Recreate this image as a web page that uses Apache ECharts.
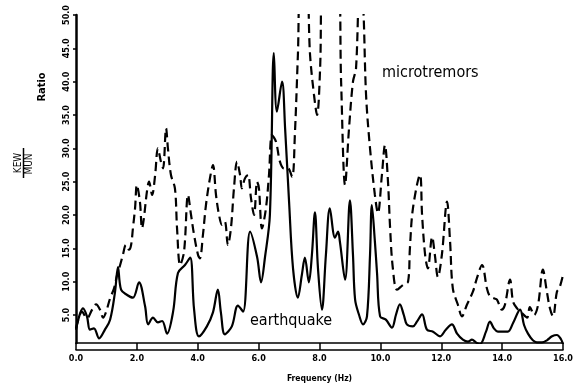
<!DOCTYPE html>
<html>
<head>
<meta charset="utf-8">
<title>KEW/MUN Ratio</title>
<style>
  html, body { margin: 0; padding: 0; background: #fff; }
  #main { width: 576px; height: 389px; }
</style>
</head>
<body>
<div id="main"></div>
<script src="https://cdn.jsdelivr.net/npm/echarts@6/dist/echarts.min.js"></script>
<script>
// frequency (Hz) and spectral ratio
var eqFreq = [0.00, 0.23, 0.36, 0.46, 0.59, 0.76, 0.95, 1.12, 1.28, 1.38, 1.48, 1.68, 1.87, 2.07, 2.27, 2.37,
  2.53, 2.69, 2.83, 2.99, 3.19, 3.35, 3.58, 3.75, 3.88, 4.04, 4.30, 4.50, 4.66, 4.76, 4.89, 5.12, 5.32, 5.49,
  5.72, 5.95, 6.08, 6.21, 6.37, 6.50, 6.60, 6.77, 6.87, 7.00, 7.13, 7.29, 7.42, 7.52, 7.65, 7.75, 7.85, 7.95,
  8.08, 8.21, 8.34, 8.51, 8.61, 8.67, 8.84, 9.00, 9.10, 9.17, 9.30, 9.43, 9.56, 9.66, 9.72, 9.82, 9.89, 9.99,
  10.18, 10.38, 10.51, 10.64, 10.77, 10.87, 11.07, 11.20, 11.37, 11.53, 11.73, 11.96, 12.15, 12.35, 12.52,
  12.71, 12.88, 13.01, 13.14, 13.27, 13.47, 13.60, 13.73, 13.86, 14.06, 14.19, 14.36, 14.59, 14.72, 14.85,
  15.01, 15.14, 15.31, 15.47, 15.64, 15.80, 15.93, 16.00];
var eqRatio = [2.8, 6.0, 4.8, 2.8, 3.0, 1.5, 2.8, 4.3, 8.4, 12.2, 8.8, 8.0, 7.6, 9.9, 6.3, 3.6,
  4.6, 3.9, 4.1, 2.2, 5.5, 11.3, 12.5, 13.6, 5.8, 1.8, 3.3, 5.4, 8.8, 5.4, 2.1, 3.3, 6.4, 5.5,
  17.5, 13.7, 9.9, 13.7, 20.0, 44.3, 35.5, 40.0, 33.0, 22.0, 12.0, 7.6, 11.0, 13.6, 9.9, 14.0, 20.4, 12.0,
  5.8, 14.0, 21.0, 16.6, 17.5, 16.0, 10.3, 22.2, 14.0, 7.3, 5.0, 3.6, 4.8, 14.0, 21.5, 16.0, 11.3, 4.8,
  4.3, 3.1, 5.0, 6.6, 5.0, 3.6, 3.3, 4.0, 5.1, 2.8, 2.5, 1.8, 2.8, 3.6, 2.2,
  1.3, 1.0, 1.3, 0.9, 0.6, 2.5, 4.0, 3.0, 2.5, 2.5, 2.5, 3.8, 5.8, 3.5, 2.2,
  1.2, 0.9, 0.9, 1.2, 1.8, 2.0, 1.4, 0.6];

var mtFreq = [0.00, 0.20, 0.36, 0.53, 0.66, 0.79, 0.89, 0.99, 1.12, 1.25, 1.35, 1.45, 1.54, 1.64, 1.74, 1.81,
  1.87, 1.94, 2.00, 2.10, 2.17, 2.23, 2.33, 2.40, 2.50, 2.60, 2.69, 2.79, 2.86, 2.96, 3.02, 3.12, 3.25, 3.32,
  3.42, 3.55, 3.68, 3.78, 3.88, 4.01, 4.07, 4.17, 4.27, 4.40, 4.50, 4.60, 4.70, 4.80, 4.89, 4.99, 5.09, 5.19,
  5.29, 5.39, 5.45, 5.55, 5.65, 5.75, 5.85, 5.95, 6.01, 6.11, 6.24, 6.34, 6.44, 6.57, 6.70, 6.83, 6.96, 7.10,
  7.19, 7.29, 7.39, 7.56, 7.69, 7.82, 7.92, 8.02, 8.11, 8.61, 8.71, 8.84, 8.97, 9.10, 9.20, 9.33, 9.43, 9.53,
  9.66, 9.82, 9.92, 10.05, 10.15, 10.25, 10.32, 10.41, 10.55, 10.74, 10.91, 10.97, 11.07, 11.30, 11.37, 11.47,
  11.56, 11.70, 11.79, 11.89, 12.02, 12.19, 12.29, 12.38, 12.55, 12.68, 12.84, 13.04, 13.17, 13.34, 13.50,
  13.60, 13.73, 13.83, 13.99, 14.09, 14.26, 14.36, 14.49, 14.65, 14.82, 14.91, 15.05, 15.18, 15.34, 15.47,
  15.57, 15.67, 15.80, 15.88, 16.00];
var mtRatio = [3.0, 5.5, 4.5, 5.8, 6.6, 5.8, 4.6, 5.5, 7.5, 9.0, 11.0, 12.5, 14.0, 15.5, 14.8, 15.5,
  18.0, 21.0, 24.5, 22.0, 18.0, 19.5, 23.5, 25.0, 23.0, 26.0, 30.0, 28.0, 27.0, 33.0, 30.0, 26.0, 24.0, 18.0,
  12.5, 14.5, 23.0, 20.0, 17.0, 14.0, 13.5, 17.0, 21.5, 25.5, 27.5, 23.0, 20.0, 18.5, 19.0, 15.5, 18.0, 24.0,
  28.0, 26.0, 24.0, 25.5, 26.0, 22.5, 20.0, 25.0, 24.0, 18.0, 21.0, 26.0, 32.0, 31.0, 28.0, 27.0, 27.0, 25.7,
  32.0, 44.0, 56.0, 56.0, 44.0, 38.0, 35.0, 42.0, 56.0, 56.0, 40.0, 24.5, 33.0, 40.0, 42.0, 56.0, 52.0, 38.0,
  30.0, 23.0, 20.3, 26.0, 30.5, 25.0, 18.0, 12.0, 8.8, 9.5, 10.0, 15.0, 21.0, 26.0, 20.0, 14.0,
  12.0, 16.7, 14.0, 10.7, 14.0, 22.0, 16.0, 9.0, 6.5, 4.8, 6.5, 8.5, 10.5, 12.5, 9.0,
  7.8, 7.5, 7.3, 5.8, 6.5, 10.3, 7.0, 6.0, 5.3, 4.6, 6.2, 5.0, 6.5, 11.8, 8.5,
  6.0, 4.8, 8.5, 9.0, 11.0];

var yTicks = [5, 10, 15, 20, 25, 30, 35, 40, 45, 50];

var scanFont = '"DejaVu Sans Condensed", "DejaVu Sans", sans-serif';

function pairs(xs, ys) {
  return xs.map(function (x, i) { return [x, ys[i]]; });
}

var chart = echarts.init(document.getElementById('main'));
var option = {
  backgroundColor: '#fff',
  animation: false,
  grid: { left: 76, right: 13, top: 15, bottom: 46 },
  xAxis: [{
    type: 'value',
    min: 0,
    max: 16,
    interval: 2,
    name: 'Frequency (Hz)',
    nameLocation: 'middle',
    nameGap: 31,
    nameTextStyle: { color: '#000', fontSize: 8.5, fontWeight: 'bold', fontFamily: scanFont },
    axisLine: { onZero: false, lineStyle: { color: '#000', width: 1.5 } },
    axisTick: { length: 7, lineStyle: { color: '#000', width: 1.5 } },
    axisLabel: {
      margin: 11, color: '#000', fontSize: 9, fontWeight: 'bold', fontFamily: scanFont,
      formatter: function (v) { return v.toFixed(1); }
    },
    splitLine: { show: false }
  }, {
    // lower rail of the double axis line
    type: 'value',
    min: 0,
    max: 16,
    position: 'bottom',
    offset: 7,
    axisLine: { onZero: false, lineStyle: { color: '#000', width: 1.5 } },
    axisTick: { show: false },
    axisLabel: { show: false },
    splitLine: { show: false }
  }],
  yAxis: {
    type: 'value',
    min: 0.8,
    max: 50,
    axisLine: { show: true, lineStyle: { color: '#000', width: 2.5 } },
    axisTick: { show: true, length: 3, customValues: yTicks, lineStyle: { color: '#000', width: 1.5 } },
    axisLabel: {
      rotate: 90, margin: 5, color: '#000', fontSize: 9, fontWeight: 'bold', fontFamily: scanFont,
      customValues: yTicks,
      formatter: function (v) { return v.toFixed(1); }
    },
    splitLine: { show: false }
  },
  series: [{
    name: 'microtremors',
    type: 'line',
    data: pairs(mtFreq, mtRatio),
    showSymbol: false,
    smooth: 0.35,
    clip: true,
    lineStyle: { color: '#000', width: 2.2, type: [9, 5] },
    z: 2
  }, {
    name: 'earthquake',
    type: 'line',
    data: pairs(eqFreq, eqRatio),
    showSymbol: false,
    smooth: 0.35,
    clip: true,
    lineStyle: { color: '#000', width: 2.2 },
    z: 3
  }],
  graphic: [
    { type: 'text', x: 382, y: 65, style: { text: 'microtremors', fill: '#000', fontSize: 16, fontFamily: scanFont } },
    { type: 'text', x: 250, y: 313, style: { text: 'earthquake', fill: '#000', fontSize: 16, fontFamily: scanFont } },
    { type: 'text', x: 42, y: 87, rotation: Math.PI / 2,
      style: { text: 'Ratio', fill: '#000', fontSize: 11, fontWeight: 'bold', fontFamily: scanFont,
        align: 'center', verticalAlign: 'middle' } },
    { type: 'text', x: 18, y: 163, rotation: Math.PI / 2,
      style: { text: 'KEW', fill: '#000', fontSize: 10, fontFamily: scanFont, align: 'center', verticalAlign: 'middle' } },
    { type: 'text', x: 29, y: 164, rotation: Math.PI / 2,
      style: { text: 'MUN', fill: '#000', fontSize: 10, fontFamily: scanFont, align: 'center', verticalAlign: 'middle' } },
    { type: 'line', shape: { x1: 23.5, y1: 148, x2: 23.5, y2: 178 }, style: { stroke: '#000', lineWidth: 1.5 } }
  ]
};
chart.setOption(option);
</script>
</body>
</html>
